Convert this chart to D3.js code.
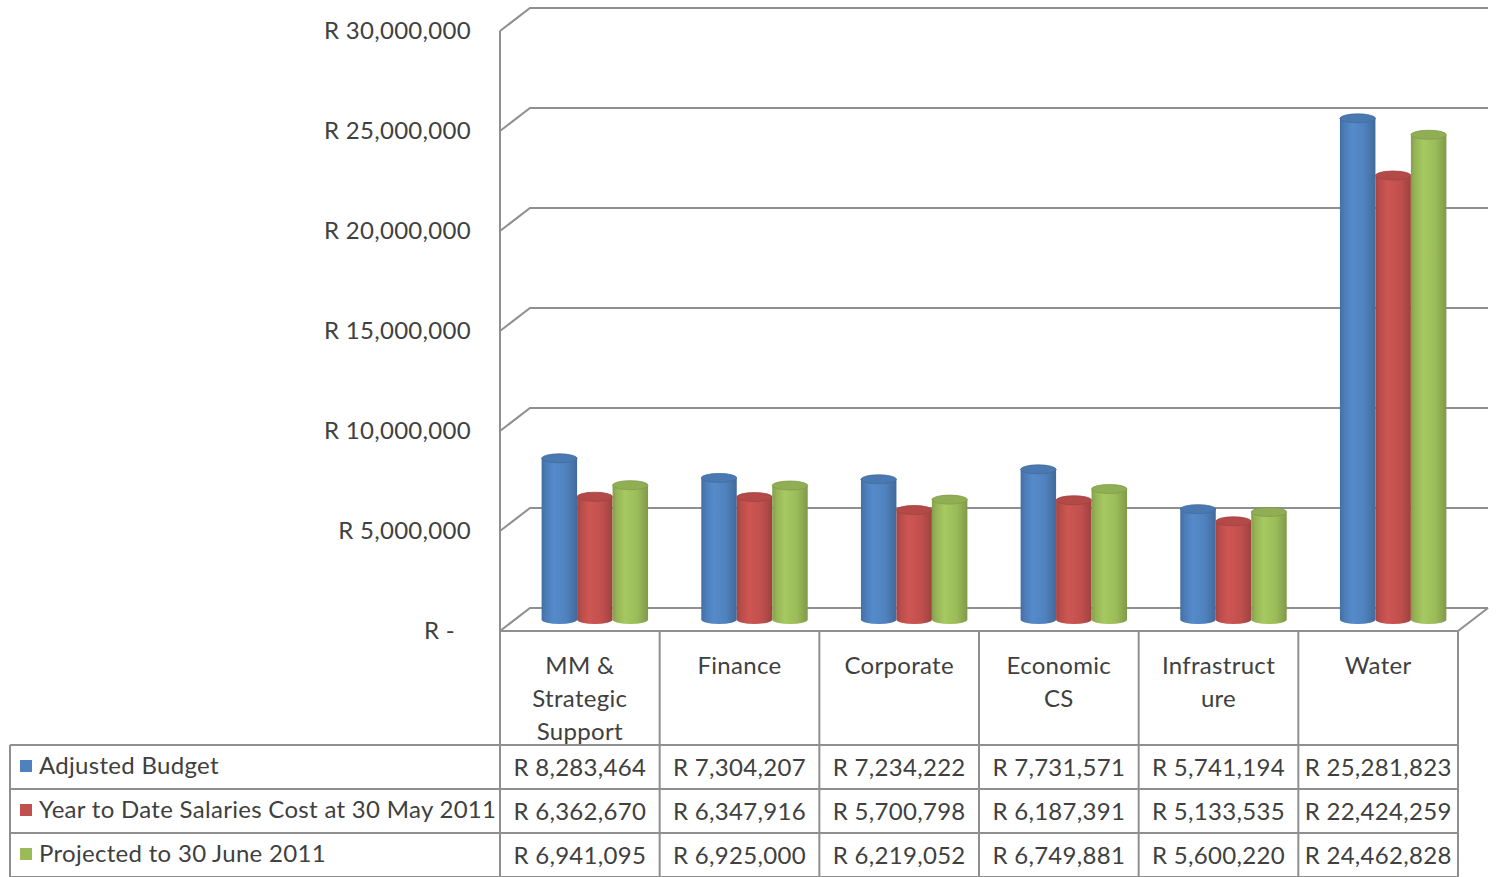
<!DOCTYPE html>
<html>
<head>
<meta charset="utf-8">
<script src="https://cdn.jsdelivr.net/npm/d3@7"></script>
<style>
  html, body { margin: 0; padding: 0; background: #ffffff; }
  svg { display: block; }
  text { font-family: Lato, "Open Sans", sans-serif; fill: #404040; letter-spacing: 0.3px; }
</style>
</head>
<body>
<svg id="chart" width="1498" height="877"></svg>
<script>
// Salary budget by department (Rand)
const categories = [
  ["MM &", "Strategic", "Support"],
  ["Finance"],
  ["Corporate"],
  ["Economic", "CS"],
  ["Infrastruct", "ure"],
  ["Water"]
];
const seriesNames = [
  "Adjusted Budget",
  "Year to Date Salaries Cost at 30 May 2011",
  "Projected to 30 June 2011"
];
const adjustedBudget = [8283464, 7304207, 7234222, 7731571, 5741194, 25281823];
const ytdSalaries    = [6362670, 6347916, 5700798, 6187391, 5133535, 22424259];
const projectedJune  = [6941095, 6925000, 6219052, 6749881, 5600220, 24462828];
const yTicks = [0, 5000000, 10000000, 15000000, 20000000, 25000000, 30000000];
const seriesColors = ["#4f81bd", "#c0504d", "#9bbb59"];

const seriesValues = [adjustedBudget, ytdSalaries, projectedJune];

const svg = d3.select("#chart");
const defs = svg.append("defs");

// Front plane of the plot and the depth offset of the 3D walls
const plotLeft = 500, plotRight = 1458;
const depthX = 30, depthY = -23;
const y = d3.scaleLinear().domain([0, 30000000]).range([631, 31]);
const x = d3.scaleBand().domain(d3.range(categories.length)).range([plotLeft, plotRight]).padding(0);
const xs = d3.scaleBand().domain(d3.range(seriesNames.length)).range([0, x.bandwidth()])
  .paddingInner(0).paddingOuter(0.75);

const gridColor = "#8f8f8f";
const fontSize = "24px";
const fmtTick = v => v === 0 ? "R -" : "R " + d3.format(",")(v);
const fmtVal = v => "R " + d3.format(",")(v);

// Walls and gridlines
const grid = svg.append("g").attr("fill", "none").attr("stroke", gridColor).attr("stroke-width", 2);
yTicks.forEach(t => {
  const yf = y(t), yb = y(t) + depthY;
  grid.append("path").attr("d",
    `M${plotLeft},${yf}L${plotLeft + depthX},${yb}L${plotRight + depthX},${yb}`);
});
grid.append("line").attr("x1", plotLeft).attr("x2", plotLeft).attr("y1", y(30000000)).attr("y2", y(0));
// Floor front and right edges
grid.append("path").attr("d",
  `M${plotLeft},${y(0)}L${plotRight},${y(0)}L${plotRight + depthX},${y(0) + depthY}`);

// Y axis labels
svg.append("g").selectAll("text").data(yTicks).join("text")
  .attr("x", d => d === 0 ? 455 : 471)
  .attr("y", d => y(d))
  .attr("dy", "0.35em")
  .attr("text-anchor", "end")
  .style("font-size", fontSize)
  .text(fmtTick);

// Cylinder shading gradients
function shade(c, k) { return d3.color(c).darker(k).formatHex(); }
function light(c, k) { return d3.color(c).brighter(k).formatHex(); }
seriesColors.forEach((c, i) => {
  const g = defs.append("linearGradient").attr("id", "cyl" + i)
    .attr("x1", "0").attr("x2", "1").attr("y1", "0").attr("y2", "0");
  g.append("stop").attr("offset", "0").attr("stop-color", shade(c, 0.45));
  g.append("stop").attr("offset", "0.12").attr("stop-color", shade(c, 0.1));
  g.append("stop").attr("offset", "0.35").attr("stop-color", light(c, 0.2));
  g.append("stop").attr("offset", "0.7").attr("stop-color", c);
  g.append("stop").attr("offset", "1").attr("stop-color", shade(c, 0.55));
});

// Bars drawn as cylinders, set at mid depth of the floor
const midX = depthX / 2, midY = depthY / 2;
const ry = 4.5;
const bars = svg.append("g");
categories.forEach((cat, ci) => {
  seriesValues.forEach((vals, si) => {
    const v = vals[ci];
    const bx = x(ci) + xs(si) + midX;
    const w = xs.bandwidth();
    const yTop = y(v) + midY + ry;
    const yBot = y(0) + midY;
    const cx = bx + w / 2;
    const g = bars.append("g");
    g.append("path")
      .attr("d", `M${bx},${yTop}L${bx},${yBot}A${w / 2},${ry} 0 0 0 ${bx + w},${yBot}L${bx + w},${yTop}Z`)
      .attr("fill", `url(#cyl${si})`);
    g.append("ellipse")
      .attr("cx", cx).attr("cy", yTop).attr("rx", w / 2).attr("ry", ry)
      .attr("fill", shade(seriesColors[si], 0.2))
      .attr("stroke", shade(seriesColors[si], 0.5)).attr("stroke-width", 0.8);
  });
});

// Data table under the plot
const rowTop = 745, rowH = 44;
const tableLeft = 10;
const table = svg.append("g").attr("stroke", gridColor).attr("stroke-width", 2).attr("fill", "none");
d3.range(categories.length + 1).forEach(i => {
  const xx = i < categories.length ? x(i) : plotRight;
  table.append("line").attr("x1", xx).attr("x2", xx).attr("y1", y(0)).attr("y2", 877);
});
d3.range(seriesNames.length + 1).forEach(r => {
  const yy = rowTop + r * rowH;
  table.append("line").attr("x1", tableLeft).attr("x2", plotRight).attr("y1", yy).attr("y2", yy);
});
table.append("line").attr("x1", tableLeft).attr("x2", tableLeft).attr("y1", rowTop).attr("y2", 877);

// Category headers
const heads = svg.append("g");
categories.forEach((lines, ci) => {
  const t = heads.append("text")
    .attr("x", x(ci) + x.bandwidth() / 2)
    .attr("y", 674)
    .attr("text-anchor", "middle")
    .style("font-size", fontSize);
  lines.forEach((ln, li) => {
    t.append("tspan").attr("x", x(ci) + x.bandwidth() / 2).attr("y", 674 + li * 33).text(ln);
  });
});

// Legend keys, series names and values
const rows = svg.append("g");
seriesNames.forEach((name, si) => {
  const cy = rowTop + si * rowH + rowH / 2;
  rows.append("rect").attr("x", 20).attr("y", cy - 7).attr("width", 12).attr("height", 12)
    .attr("fill", seriesColors[si]);
  rows.append("text").attr("x", 39).attr("y", cy).attr("dy", "0.3em")
    .style("font-size", fontSize).text(name);
  seriesValues[si].forEach((v, ci) => {
    rows.append("text")
      .attr("x", x(ci) + x.bandwidth() / 2)
      .attr("y", cy + 2).attr("dy", "0.3em")
      .attr("text-anchor", "middle")
      .style("font-size", fontSize)
      .text(fmtVal(v));
  });
});
</script>
</body>
</html>
